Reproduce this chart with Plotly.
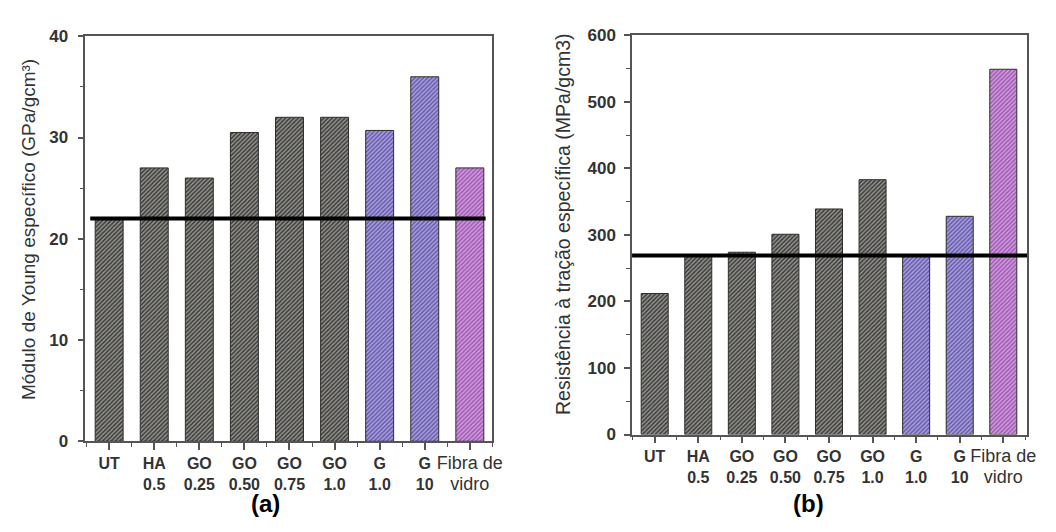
import plotly.graph_objects as go

categories = ["UT", "HA 0.5", "GO 0.25", "GO 0.50", "GO 0.75", "GO 1.0", "G 1.0", "G 10", "Fibra de vidro"]
tick_labels = ["<b>UT</b>", "<b>HA<br>0.5</b>", "<b>GO<br>0.25</b>", "<b>GO<br>0.50</b>", "<b>GO<br>0.75</b>",
               "<b>GO<br>1.0</b>", "<b>G<br>1.0</b>", "<b>G<br>10</b>",
               "<span style='font-size:18px'>Fibra de<br>vidro</span>"]
young_modulus = [22, 27, 26, 30.5, 32, 32, 30.7, 36, 27]
tensile_strength = [212, 268, 274, 301, 339, 383, 268, 328, 549]
ref_young = 22
ref_tensile = 269
groups = ["gray", "gray", "gray", "gray", "gray", "gray", "blue", "blue", "magenta"]

base_col = {"gray": "#42413e", "blue": "#6a5db5", "magenta": "#a65aba"}
stripe_col = {"gray": "#5a5955", "blue": "#7d71c2", "magenta": "#ba78ca"}

xpos = list(range(len(categories)))
fig = go.Figure()

for vals, xa, ya in [(young_modulus, "x", "y"), (tensile_strength, "x2", "y2")]:
    fig.add_trace(go.Bar(
        x=xpos, y=vals, xaxis=xa, yaxis=ya, width=0.62,
        marker=dict(
            color=[base_col[g] for g in groups],
            line=dict(color="#2e2d2b", width=1),
            pattern=dict(shape="/", fgcolor=[stripe_col[g] for g in groups], size=3, solidity=0.4),
        ),
        showlegend=False, hovertext=categories,
    ))

fig.add_shape(type="line", xref="x", yref="y", x0=-0.42, x1=8.35, y0=ref_young, y1=ref_young,
              line=dict(color="black", width=4))
fig.add_shape(type="line", xref="x2", yref="y2", x0=-0.52, x1=8.55, y0=ref_tensile, y1=ref_tensile,
              line=dict(color="black", width=4))

W, H = 1056, 532
FONT = "Liberation Sans, Arial"
tickfont = dict(family=FONT, size=17, color="#333", weight="bold")
xfont = dict(family=FONT, size=16, color="#333")
axcommon = dict(showline=True, linecolor="#555", linewidth=1.5, mirror=True, showgrid=False, zeroline=False,
                ticks="outside", tickcolor="#555", tickwidth=1.5)
minor_x = dict(tickmode="array", tickvals=[i + 0.5 for i in range(-1, 9)], ticklen=4,
               ticks="outside", tickcolor="#555", tickwidth=1.2)

fig.update_layout(
    width=W, height=H, margin=dict(l=0, r=0, t=0, b=0),
    paper_bgcolor="white", plot_bgcolor="white",
    xaxis=dict(domain=[78 / W, 489 / W], anchor="y", range=[-0.53, 8.5], tickmode="array", tickvals=xpos,
               ticktext=tick_labels, ticklen=7, tickangle=0, tickfont=xfont, minor=minor_x, **axcommon),
    yaxis=dict(domain=[1 - 440 / H, 1 - 20 / H], anchor="x", range=[0, 40], dtick=10, ticklen=6,
               tickfont=tickfont, ticklabelstandoff=6,
               minor=dict(dtick=5, ticklen=4, ticks="outside", tickcolor="#555", tickwidth=1.2),
               **axcommon),
    xaxis2=dict(domain=[630 / W, 1029 / W], anchor="y2", range=[-0.52, 8.55], tickmode="array", tickvals=xpos,
                ticktext=tick_labels, ticklen=7, tickangle=0, tickfont=xfont, minor=minor_x, **axcommon),
    yaxis2=dict(domain=[1 - 433 / H, 1 - 19 / H], anchor="x2", range=[0, 600], dtick=100, ticklen=6,
                tickfont=tickfont, ticklabelstandoff=5,
                minor=dict(dtick=50, ticklen=4, ticks="outside", tickcolor="#555", tickwidth=1.2),
                **axcommon),
    annotations=[
        dict(text="Módulo de Young específico (GPa/gcm³)", xref="paper", yref="paper", x=20 / W, y=1 - 220 / H,
             xanchor="center", yanchor="middle", textangle=-90, showarrow=False,
             font=dict(family=FONT, size=19, color="#333")),
        dict(text="Resistência à tração específica (MPa/gcm3)", xref="paper", yref="paper", x=561 / W,
             y=1 - 215 / H, xanchor="center", yanchor="middle", textangle=-90, showarrow=False,
             font=dict(family=FONT, size=19.5, color="#333")),
        dict(text="<b>(a)</b>", xref="paper", yref="paper", x=260 / W, y=1 - 505 / H, xanchor="center",
             yanchor="middle", showarrow=False, font=dict(family=FONT, size=24, color="black")),
        dict(text="<b>(b)</b>", xref="paper", yref="paper", x=808 / W, y=1 - 505 / H, xanchor="center",
             yanchor="middle", showarrow=False, font=dict(family=FONT, size=24, color="black")),
    ],
)

fig.write_html("out.html")
